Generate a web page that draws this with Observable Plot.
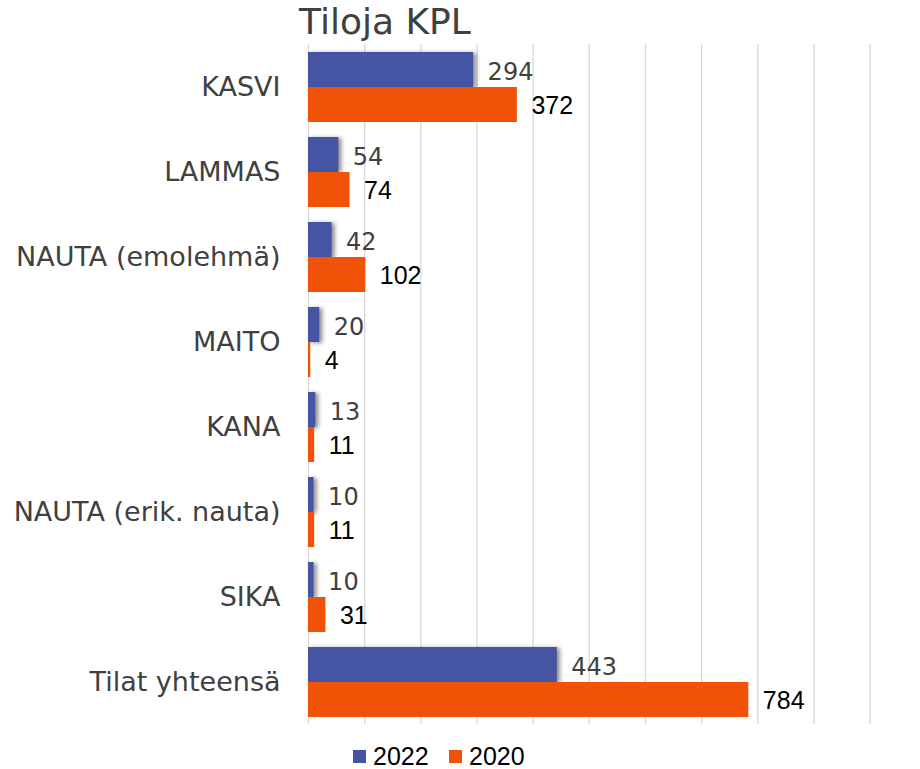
<!DOCTYPE html>
<html>
<head>
<meta charset="utf-8">
<script src="https://cdn.jsdelivr.net/npm/d3@7"></script>
<script src="https://cdn.jsdelivr.net/npm/@observablehq/plot@0.6"></script>
<style>
  html, body { margin: 0; padding: 0; background: #fff; }
  #wrap { width: 920px; height: 769px; position: relative; overflow: hidden; }
  #title { height: 42px; position: relative; }
  #title span { position: absolute; left: 299px; top: 1px; font-family: "DejaVu Sans", Verdana, sans-serif; font-size: 36px; color: #404040; white-space: nowrap; }
  #legend { height: 37px; position: relative; font-family: "Liberation Sans", Arial, sans-serif; font-size: 25px; color: #000; }
  #legend .sw { position: absolute; top: 18px; width: 13px; height: 13px; }
  #legend .lb { position: absolute; top: 10px; line-height: normal; }
  svg { display: block; }
</style>
</head>
<body>
<div id="wrap">
  <div id="title"><span>Tiloja KPL</span></div>
  <div id="chart"></div>
  <div id="legend"></div>
</div>
<script>
const categories = ["KASVI", "LAMMAS", "NAUTA (emolehmä)", "MAITO", "KANA", "NAUTA (erik. nauta)", "SIKA", "Tilat yhteensä"];
const series = ["2022", "2020"];
const values2022 = [294, 54, 42, 20, 13, 10, 10, 443];
const values2020 = [372, 74, 102, 4, 11, 11, 31, 784];
const gridTicks = [0, 100, 200, 300, 400, 500, 600, 700, 800, 900, 1000];
const colors = {"2022": "#4654a4", "2020": "#f05307"};

const rows = categories.flatMap((c, i) => [
  {category: c, series: "2022", value: values2022[i]},
  {category: c, series: "2020", value: values2020[i]}
]);

const chart = Plot.plot({
  width: 920,
  height: 690,
  marginTop: 0,
  marginBottom: 6,
  marginLeft: 308,
  marginRight: 47,
  style: {fontFamily: "DejaVu Sans, Verdana, sans-serif", fontSize: "27px", color: "#404040", background: "#fff"},
  facet: {data: rows, y: "category"},
  fy: {domain: categories, padding: 0, axis: "left", label: null, tickSize: 0, tickPadding: 28},
  y: {domain: series, paddingInner: 0, paddingOuter: 0.204, axis: null},
  x: {domain: [0, 1006], axis: null},
  marks: [
    Plot.ruleX(gridTicks, {stroke: "#d9d9d9", strokeWidth: 1.3}),
    Plot.barX(rows, {filter: d => d.series === "2022", x: "value", y: "series", fill: colors["2022"]}),
    Plot.barX(rows, {filter: d => d.series === "2020", x: "value", y: "series", fill: colors["2020"]}),
    Plot.text(rows, {filter: d => d.series === "2022", x: "value", y: "series", text: d => String(d.value),
      textAnchor: "start", dx: 14, dy: 2, fill: "#404040", fontFamily: "DejaVu Sans, Verdana, sans-serif", fontSize: 24}),
    Plot.text(rows, {filter: d => d.series === "2020", x: "value", y: "series", text: d => String(d.value),
      textAnchor: "start", dx: 14, dy: 1, fill: "#000000", fontFamily: "Liberation Sans, Arial, sans-serif", fontSize: 25})
  ]
});

// soft shadow on the 2022 bars, as in the reference
chart.querySelectorAll('g[fill="' + colors["2022"] + '"]').forEach(g => {
  g.style.filter = "drop-shadow(3px 1px 2px rgba(0,0,0,0.45))";
});

document.getElementById("chart").appendChild(chart);

const legend = document.getElementById("legend");
const legendX = {"2022": [353, 373], "2020": [449, 469]};
series.forEach(s => {
  const sw = document.createElement("div");
  sw.className = "sw";
  sw.style.left = legendX[s][0] + "px";
  sw.style.background = colors[s];
  legend.appendChild(sw);
  const lb = document.createElement("div");
  lb.className = "lb";
  lb.style.left = legendX[s][1] + "px";
  lb.textContent = s;
  legend.appendChild(lb);
});
</script>
</body>
</html>
